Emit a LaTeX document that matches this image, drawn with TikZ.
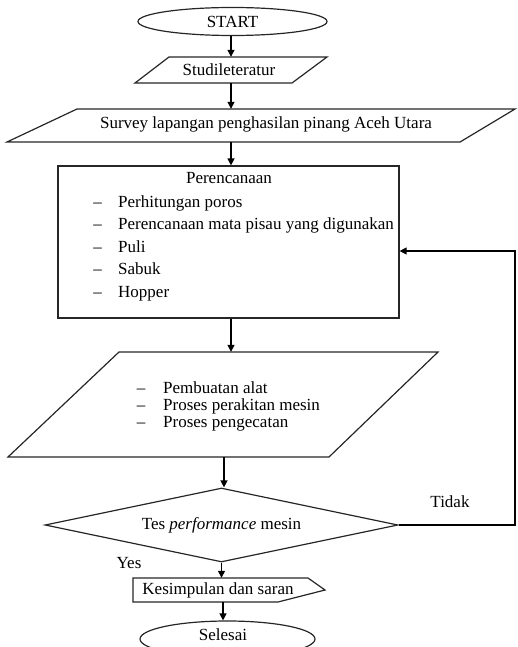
\documentclass[tikz,border=0pt]{standalone}
\usepackage{fontspec}
\setmainfont{Liberation Serif}
\usetikzlibrary{arrows.meta,shapes.geometric}
\begin{document}
\begin{tikzpicture}[x=1pt,y=-1pt,
  shapeline/.style={draw=black!85, line width=1.2pt},
  arr/.style={draw=black, line width=1.3pt, -{Triangle[length=7pt,width=7pt]}},
  lbl/.style={font=\fontsize{17}{20}\selectfont, inner sep=0pt},
  holder/.style={inner sep=0pt, minimum width=10pt},
]
\useasboundingbox (0,0) rectangle (518,647);
\clip (0,0) rectangle (518,647);

% START
\node[shapeline, ellipse, lbl, minimum width=189pt, minimum height=28pt] (start) at (232.5,21.5) {START};

% Studileteratur
\draw[shapeline] (169,57) -- (327,57) -- (292,83) -- (135,83) -- cycle;
\node[holder, minimum height=26pt] (studi) at (231,70) {};
\node[lbl] (studiT) at (229,70) {Studileteratur};

% Survey
\draw[shapeline] (77,109) -- (515,109) -- (460,142) -- (7,142) -- cycle;
\node[holder, minimum height=33pt] (survey) at (231,125.5) {};
\node[lbl] (surveyT) at (266,124) {Survey lapangan penghasilan pinang Aceh Utara};

% Perencanaan box
\node[shapeline, rectangle, minimum width=341pt, minimum height=152pt, inner sep=0pt] (plan) at (228.5,242) {};
\node[lbl, anchor=base] (planT) at (229,183) {Perencanaan};
\foreach \yy/\tt [count=\i] in {207/Perhitungan poros,229.5/Perencanaan mata pisau yang digunakan,252/Puli,274.5/Sabuk,297/Hopper}{
  \node[lbl, anchor=base] (pd\i) at (97.5,\yy) {--};
  \node[lbl, anchor=base west] (pt\i) at (118,\yy) {\tt};
}

% Pembuatan parallelogram
\draw[shapeline] (119,352) -- (438,352) -- (329,457) -- (8,457) -- cycle;
\node[holder, minimum height=105pt] (make) at (224,404.5) {};
\foreach \yy/\tt [count=\i] in {393/Pembuatan alat,410/Proses perakitan mesin,427/Proses pengecatan}{
  \node[lbl, anchor=base] (md\i) at (141,\yy) {--};
  \node[lbl, anchor=base west] (mt\i) at (163,\yy) {\tt};
}

% Decision
\node[shapeline, diamond, aspect=4.77, minimum width=353pt, minimum height=74pt, inner sep=0pt, lbl] (test) at (221.5,525) {Tes \textit{performance} mesin};

% Kesimpulan
\draw[shapeline] (133,578) -- (308,578) -- (325,590) -- (278,602) -- (133,602) -- cycle;
\node[holder, minimum height=24pt] (concl) at (223,590) {};
\node[lbl] (conclT) at (218,590) {Kesimpulan dan saran};

% Selesai
\node[shapeline, ellipse, minimum width=175pt, minimum height=36pt, inner sep=0pt] (end) at (227.5,639) {};
\node[lbl] (endT) at (223,635) {Selesai};

% labels
\node[lbl] (tidak) at (450,502) {Tidak};
\node[lbl] (yes) at (129,563) {Yes};

% connectors
\draw[arr] (start.south -| studi) -- (studi.north);
\draw[arr] (studi.south) -- (survey.north);
\draw[arr] (survey.south) -- (survey.south |- plan.north);
\draw[arr] (plan.south -| survey) -- (make.north -| survey);
\draw[arr] (make.south) -- (make.south |- test.north);
\draw[arr] (test.south) -- (test.south |- concl.north);
\draw[arr] (concl.south) -- (concl.south |- end.north);
\coordinate (fb) at (515,251);
\draw[arr] (test.east) -- (test.east -| fb) -- (fb) -- (fb -| plan.east);
\end{tikzpicture}
\end{document}
